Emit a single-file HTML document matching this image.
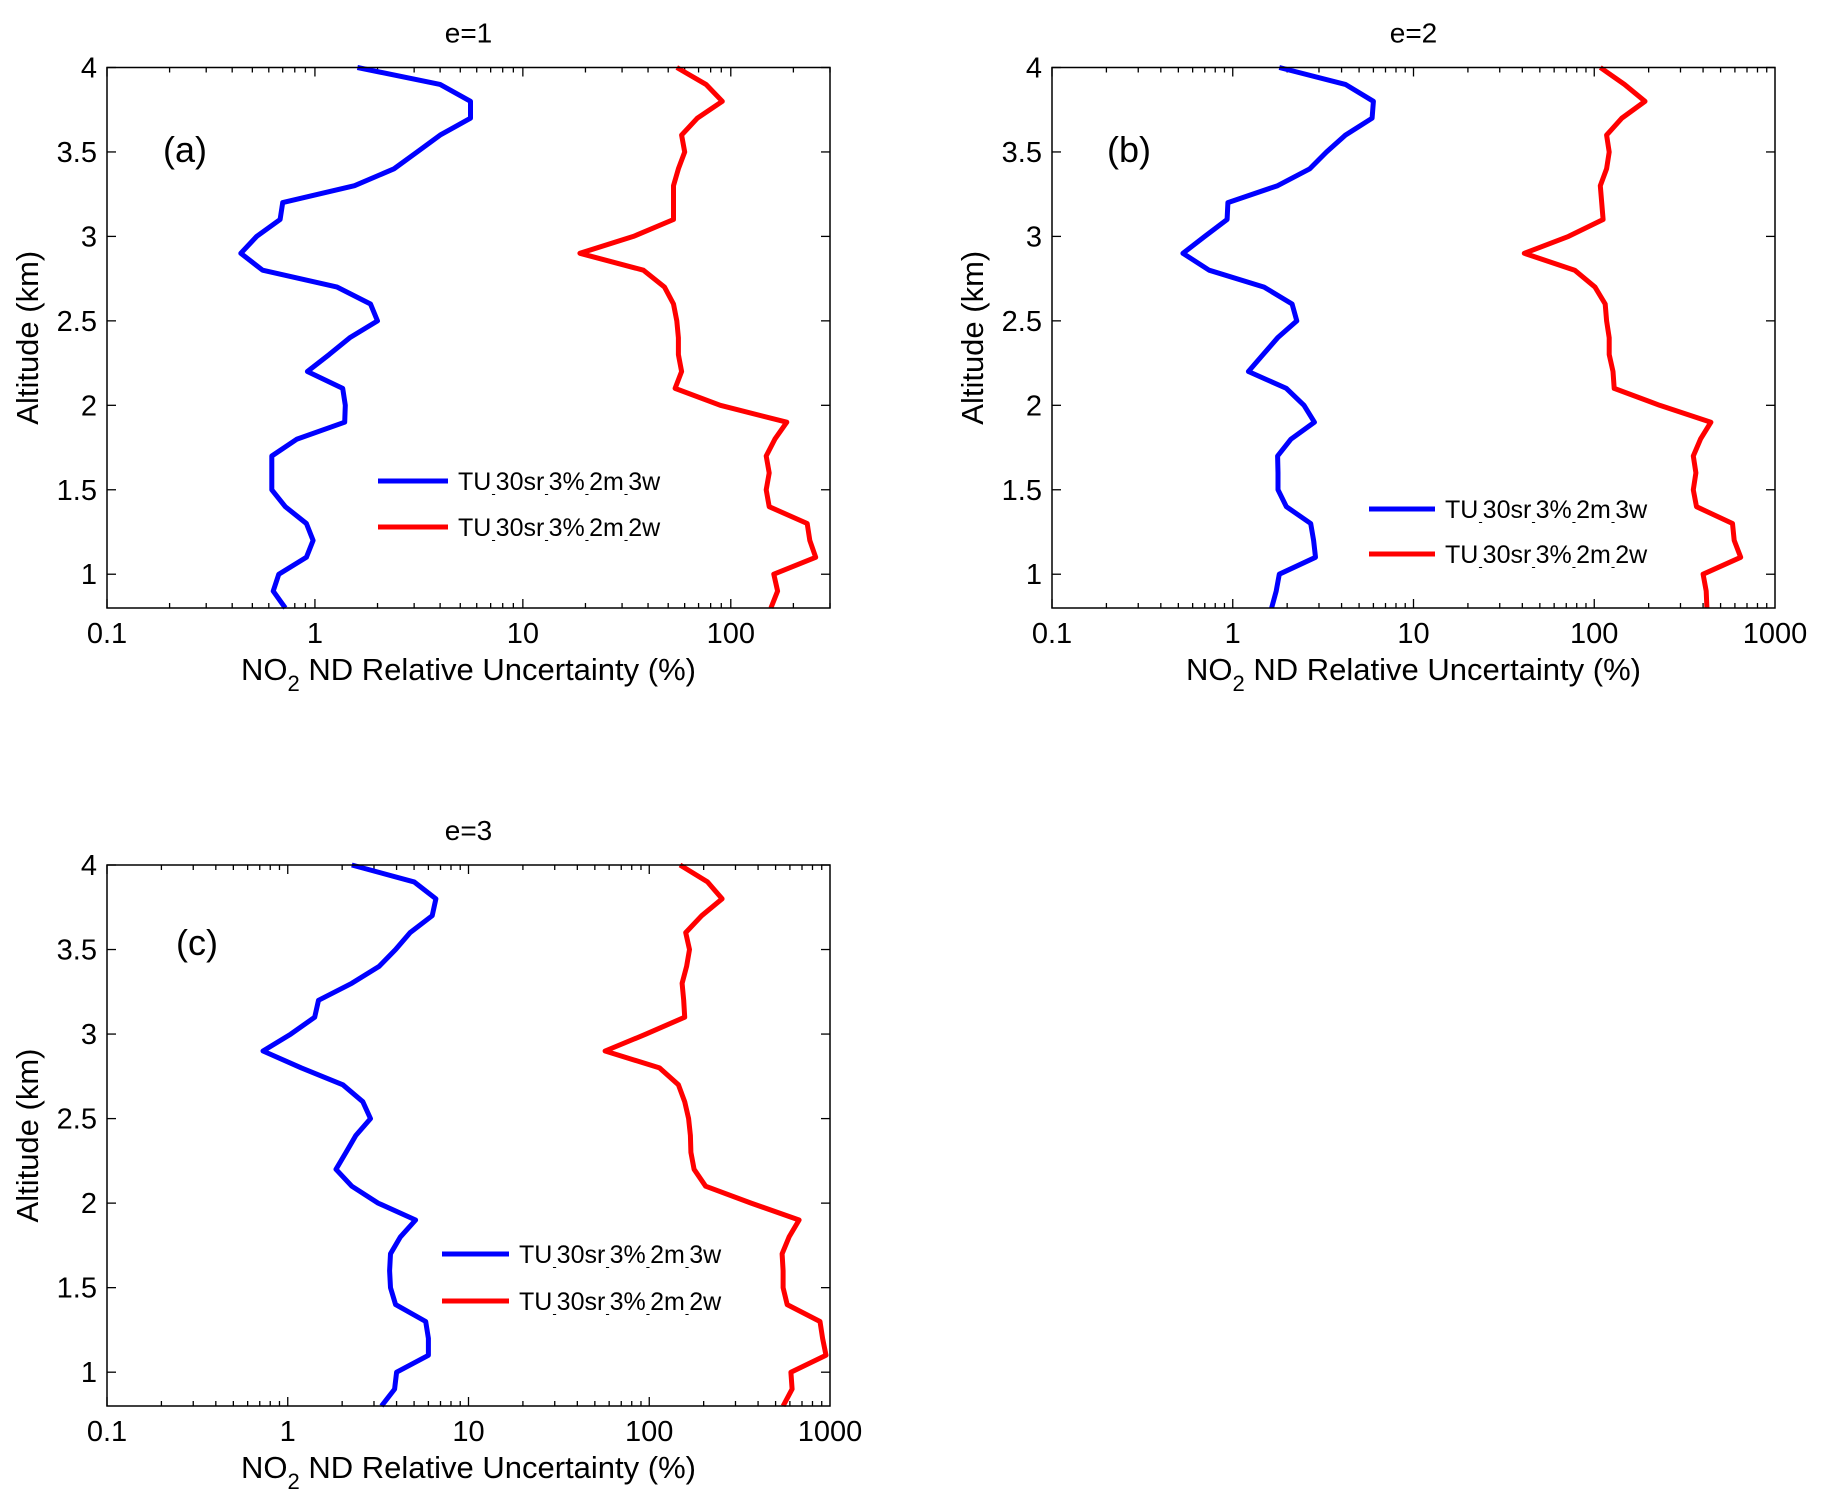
<!DOCTYPE html>
<html><head><meta charset="utf-8"><style>
html,body{margin:0;padding:0;background:#fff}
svg{display:block;font-family:"Liberation Sans",Arial,sans-serif}
</style></head><body>
<svg id="fig" width="1826" height="1511" viewBox="0 0 1826 1511"></svg>
<script>
const altitudes=[4.0,3.9,3.8,3.7,3.6,3.5,3.4,3.3,3.2,3.1,3.0,2.9,2.8,2.7,2.6,2.5,2.4,2.3,2.2,2.1,2.0,1.9,1.8,1.7,1.6,1.5,1.4,1.3,1.2,1.1,1.0,0.9,0.8];
const blueA=[1.6,4.0,5.6,5.6,4.0,3.1,2.4,1.55,0.70,0.68,0.525,0.44,0.56,1.28,1.85,2.0,1.47,1.17,0.92,1.36,1.40,1.39,0.82,0.62,0.62,0.62,0.72,0.91,0.98,0.91,0.67,0.63,0.72];
const redA=[55,76,91,69,58,60,56,53,53,53,34,18.8,38,48,53,55,56,56,58,54,89,186,163,148,153,148,153,233,240,256,161,168,156];
const blueB=[1.81,4.2,6.0,5.9,4.2,3.3,2.67,1.77,0.94,0.93,0.70,0.53,0.74,1.49,2.13,2.26,1.77,1.47,1.22,1.98,2.48,2.83,2.1,1.77,1.78,1.78,1.98,2.7,2.8,2.87,1.81,1.74,1.64];
const redB=[108,147,191,142,117,121,117,108,110,112,72,41,78,101,115,117,121,121,127,129,230,442,387,353,365,353,368,582,595,646,400,416,420];
const blueC=[2.26,5.0,6.6,6.3,4.75,3.95,3.2,2.26,1.48,1.41,1.04,0.73,1.19,2.02,2.6,2.87,2.38,2.1,1.85,2.26,3.16,5.1,4.2,3.7,3.66,3.7,3.95,5.8,6.0,6.0,4.0,3.9,3.3];
const redC=[148,210,253,195,159,167,161,152,155,157,96,57,114,145,157,165,169,170,177,205,366,675,594,543,550,550,580,880,910,950,608,617,550];
const yTicks=[1,1.5,2,2.5,3,3.5,4];
const yTickLabels=["1","1.5","2","2.5","3","3.5","4"];
const legendLabels=["3w","2w"];

const NS="http://www.w3.org/2000/svg";
const svg=document.getElementById('fig');
function mk(tag,attrs,parent){const e=document.createElementNS(NS,tag);for(const k in attrs)e.setAttribute(k,attrs[k]);(parent||svg).appendChild(e);return e;}

function panel(cfg){
  const g=mk('g',{});
  
  
  const {L,R,T,B,xmin,xmax,ymin,ymax}=cfg;
  const lx=v=>L+(Math.log10(v)-Math.log10(xmin))/(Math.log10(xmax)-Math.log10(xmin))*(R-L);
  const ly=v=>B-(v-ymin)/(ymax-ymin)*(B-T);
  const t=mk('text',{x:(L+R)/2,y:T-25,'font-size':28,'text-anchor':'middle'},g);t.textContent=cfg.title;
  
  
  const d0=Math.round(Math.log10(xmin)),d1=Math.ceil(Math.log10(xmax));
  for(let d=d0;d<d1;d++){
    for(let m=1;m<=9;m++){
      const v=m*Math.pow(10,d);
      if(v<xmin-1e-9||v>xmax+1e-9)continue;
      const x=lx(v),len=m===1?9:5;
      mk('line',{x1:x,x2:x,y1:B,y2:B-len,stroke:'#000','stroke-width':1.3},g);
      mk('line',{x1:x,x2:x,y1:T,y2:T+len,stroke:'#000','stroke-width':1.3},g);
    }
  }
  for(let d=d0;d<=d1;d++){
    const v=Math.pow(10,d);if(v>xmax*1.0001)continue;
    const tx=mk('text',{x:lx(v),y:B+35,'font-size':29,'text-anchor':'middle'},g);
    tx.textContent=v<1?'0.1':String(v);
    
    
  }
  yTicks.forEach((v,i)=>{
    const y=ly(v);
    mk('line',{x1:L,x2:L+9,y1:y,y2:y,stroke:'#000','stroke-width':1.3},g);
    mk('line',{x1:R,x2:R-9,y1:y,y2:y,stroke:'#000','stroke-width':1.3},g);
    const ty=mk('text',{x:L-10,y:y+10,'font-size':29,'text-anchor':'end'},g);
    ty.textContent=yTickLabels[i];
    
    
  });
  const series=[[cfg.blue,'#0000ff','blue'],[cfg.red,'#ff0000','red']];
  series.forEach(([vals,col,nm])=>{
    const pts=vals.map((v,i)=>lx(v).toFixed(1)+','+ly(altitudes[i]).toFixed(1)).join(' ');
    const p=mk('polyline',{points:pts,fill:'none',stroke:col,'stroke-width':5,'stroke-linejoin':'round'},g);
    
    
  });
  mk('rect',{x:L,y:T,width:R-L,height:B-T,fill:'none',stroke:'#000','stroke-width':1.5},g);
  const xl=mk('text',{x:(L+R)/2,y:B+72,'font-size':31,'text-anchor':'middle'},g);
  xl.innerHTML='NO<tspan font-size="22" dy="11">2</tspan><tspan dy="-11"> ND Relative Uncertainty (%)</tspan>';
  
  
  const cy=(T+B)/2;
  const yl=mk('text',{x:0,y:0,'font-size':31,'text-anchor':'middle',transform:`translate(${cfg.ylx},${cy}) rotate(-90)`},g);
  yl.textContent='Altitude (km)';
  
  
  const pl=mk('text',{x:cfg.lab[0],y:cfg.lab[1],'font-size':36,'text-anchor':'middle'},g);
  pl.textContent=cfg.letter;
  
  
  const cols=['#0000ff','#ff0000'];
  legendLabels.forEach((s,i)=>{
    const y=cfg.leg[2+i];
    const lg=mk('g',{},g);
    
    
    mk('line',{x1:cfg.leg[0],x2:cfg.leg[1],y1:y,y2:y,stroke:cols[i],'stroke-width':5},lg);
    const tt=mk('text',{x:cfg.leg[1]+10,y:y+9,'font-size':25},lg);
    tt.innerHTML='TU<tspan font-size="13" dy="8">-</tspan><tspan dy="-8">30sr</tspan><tspan font-size="13" dy="8">-</tspan><tspan dy="-8">3%</tspan><tspan font-size="13" dy="8">-</tspan><tspan dy="-8">2m</tspan><tspan font-size="13" dy="8">-</tspan><tspan dy="-8">'+s+'</tspan>';
  });
}
panel({id:'a',title:'e=1',letter:'(a)',L:107,R:830,T:67.5,B:608,xmin:0.1,xmax:300,ymin:0.8,ymax:4,blue:blueA,red:redA,ylx:38,lab:[185,162],leg:[378,448,481,527]});
panel({id:'b',title:'e=2',letter:'(b)',L:1052,R:1775,T:67.5,B:608,xmin:0.1,xmax:1000,ymin:0.8,ymax:4,blue:blueB,red:redB,ylx:983,lab:[1129,162],leg:[1369,1435,509,554]});
panel({id:'c',title:'e=3',letter:'(c)',L:107,R:830,T:865,B:1406,xmin:0.1,xmax:1000,ymin:0.8,ymax:4,blue:blueC,red:redC,ylx:38,lab:[197,955],leg:[442,509,1254,1301]});
</script>
</body></html>
